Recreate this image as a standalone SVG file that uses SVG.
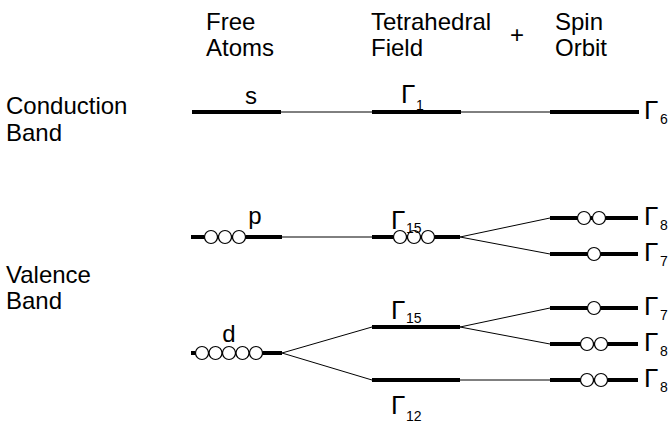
<svg xmlns="http://www.w3.org/2000/svg" width="672" height="428" viewBox="0 0 672 428">
<style>
text{font-family:"Liberation Sans",Arial,sans-serif;fill:#000}
.h{font-size:24px}
.lab{font-size:24px}
.orb{font-size:24px}
.g{font-size:26px}
.sub{font-size:14px}
.lvl{stroke:#000;stroke-width:4;fill:none}
.thin{stroke:#000;stroke-width:1;fill:none}
.c{fill:#fff;stroke:#000;stroke-width:1.2}
</style>
<rect width="672" height="428" fill="#fff"/>
<g id="headers">
<text class="h" x="206" y="30">Free</text>
<text class="h" x="206" y="56">Atoms</text>
<text class="h" x="371" y="30">Tetrahedral</text>
<text class="h" x="371" y="56">Field</text>
<text class="h" x="510" y="43">+</text>
<text class="h" x="555" y="30">Spin</text>
<text class="h" x="555" y="56">Orbit</text>
</g>
<g id="band-labels">
<text class="lab" x="6" y="114">Conduction</text>
<text class="lab" x="6" y="141">Band</text>
<text class="lab" x="6" y="283">Valence</text>
<text class="lab" x="6" y="309">Band</text>
</g>
<g id="connectors">
<line class="thin" x1="281" y1="112" x2="372" y2="112"/>
<line class="thin" x1="461" y1="112" x2="550" y2="112"/>
<line class="thin" x1="282" y1="237" x2="372" y2="237"/>
<line class="thin" x1="460" y1="237" x2="550" y2="218"/>
<line class="thin" x1="460" y1="237" x2="550" y2="254"/>
<line class="thin" x1="282" y1="353" x2="372" y2="327"/>
<line class="thin" x1="282" y1="353" x2="372" y2="380"/>
<line class="thin" x1="460" y1="327" x2="550" y2="308"/>
<line class="thin" x1="460" y1="327" x2="550" y2="344"/>
<line class="thin" x1="460" y1="380" x2="550" y2="380"/>
</g>
<g id="level-s">
<line class="lvl" x1="192" y1="112" x2="281" y2="112"/>
<text class="orb" x="251" y="104" text-anchor="middle">s</text>
</g>
<g id="level-G1">
<line class="lvl" x1="372" y1="112" x2="461" y2="112"/>
<text class="g" x="401" y="103">Γ</text><text class="sub" x="416" y="110">1</text>
</g>
<g id="level-G6">
<line class="lvl" x1="550" y1="112" x2="639" y2="112"/>
<text class="g" x="644" y="119">Γ</text><text class="sub" x="660" y="124">6</text>
</g>
<g id="level-p">
<line class="lvl" x1="191" y1="237" x2="282" y2="237"/>
<circle class="c" cx="211" cy="237" r="6.5"/><circle class="c" cx="225" cy="237" r="6.5"/><circle class="c" cx="239" cy="237" r="6.5"/>
<text class="orb" x="255" y="224" text-anchor="middle">p</text>
</g>
<g id="level-G15p">
<line class="lvl" x1="372" y1="237" x2="460" y2="237"/>
<circle class="c" cx="400" cy="237" r="6.5"/><circle class="c" cx="414" cy="237" r="6.5"/><circle class="c" cx="428" cy="237" r="6.5"/>
<text class="g" x="391" y="229">Γ</text><text class="sub" x="406" y="233">15</text>
</g>
<g id="level-G8a">
<line class="lvl" x1="550" y1="218" x2="638" y2="218"/>
<circle class="c" cx="584" cy="218" r="6.5"/><circle class="c" cx="599" cy="218" r="6.5"/>
<text class="g" x="644" y="225">Γ</text><text class="sub" x="660" y="230">8</text>
</g>
<g id="level-G7a">
<line class="lvl" x1="550" y1="254" x2="638" y2="254"/>
<circle class="c" cx="594" cy="254" r="6.5"/>
<text class="g" x="644" y="261">Γ</text><text class="sub" x="660" y="266">7</text>
</g>
<g id="level-d">
<line class="lvl" x1="191" y1="353" x2="282" y2="353"/>
<circle class="c" cx="202" cy="353" r="6.5"/><circle class="c" cx="215.5" cy="353" r="6.5"/><circle class="c" cx="229" cy="353" r="6.5"/><circle class="c" cx="242.5" cy="353" r="6.5"/><circle class="c" cx="256" cy="353" r="6.5"/>
<text class="orb" x="229" y="342" text-anchor="middle">d</text>
</g>
<g id="level-G15d">
<line class="lvl" x1="372" y1="327" x2="460" y2="327"/>
<text class="g" x="391" y="319">Γ</text><text class="sub" x="406" y="323">15</text>
</g>
<g id="level-G12">
<line class="lvl" x1="372" y1="380" x2="460" y2="380"/>
<text class="g" x="391" y="414">Γ</text><text class="sub" x="406" y="421">12</text>
</g>
<g id="level-G7b">
<line class="lvl" x1="550" y1="308" x2="638" y2="308"/>
<circle class="c" cx="594" cy="308" r="6.5"/>
<text class="g" x="644" y="315">Γ</text><text class="sub" x="660" y="320">7</text>
</g>
<g id="level-G8b">
<line class="lvl" x1="550" y1="344" x2="638" y2="344"/>
<circle class="c" cx="587" cy="344" r="6.5"/><circle class="c" cx="601" cy="344" r="6.5"/>
<text class="g" x="644" y="351">Γ</text><text class="sub" x="660" y="356">8</text>
</g>
<g id="level-G8c">
<line class="lvl" x1="550" y1="380" x2="638" y2="380"/>
<circle class="c" cx="587" cy="380" r="6.5"/><circle class="c" cx="601" cy="380" r="6.5"/>
<text class="g" x="644" y="387">Γ</text><text class="sub" x="660" y="392">8</text>
</g>
</svg>
